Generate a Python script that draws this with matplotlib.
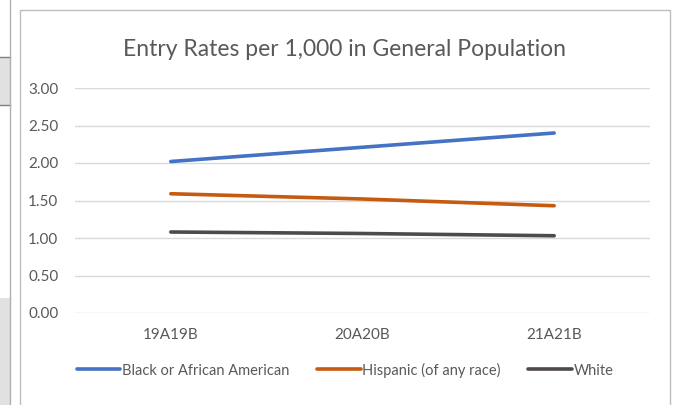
"""Entry Rates per 1,000 in General Population – Nachbau eines Excel-Liniendiagramms."""

import matplotlib
matplotlib.use("Agg")
import matplotlib.pyplot as plt
from matplotlib.patches import Rectangle
from matplotlib.lines import Line2D

plt.rcParams["font.family"] = ["Lato", "DejaVu Sans"]

# Daten
categories = ["19A19B", "20A20B", "21A21B"]
black = [2.02, 2.21, 2.40]
hispanic = [1.59, 1.52, 1.43]
white = [1.08, 1.06, 1.03]
series_names = ["Black or African American", "Hispanic (of any race)", "White"]
colors = ["#4472C4", "#C55A11", "#4F4A4A"]
yticks = [0.0, 0.5, 1.0, 1.5, 2.0, 2.5, 3.0]

W, H = 673, 405
fig = plt.figure(figsize=(W / 100, H / 100), dpi=100)


def fx(px):
    return px / W


def fy(py):
    return 1 - py / H


# Reste der Tabelle links am Rand
fig.add_artist(Rectangle((0, fy(105)), fx(9.5), fy(57) - fy(105),
                         transform=fig.transFigure, facecolor="#e1e1e1",
                         edgecolor="none"))
fig.add_artist(Rectangle((0, 0), fx(9.5), fy(298),
                         transform=fig.transFigure, facecolor="#e1e1e1",
                         edgecolor="none"))
for yy in (57, 105):
    fig.add_artist(Line2D([0, fx(9.5)], [fy(yy), fy(yy)],
                          transform=fig.transFigure, color="#7f7f7f", lw=1))
fig.add_artist(Line2D([fx(9.5), fx(9.5)], [0, 1], transform=fig.transFigure,
                      color="#b0b0b0", lw=1))

# Rahmen des Diagrammbereichs
fig.add_artist(Line2D([fx(19.5), fx(19.5), fx(670), fx(670)],
                      [0, fy(9.5), fy(9.5), 0], transform=fig.transFigure,
                      color="#bdbdbd", lw=1))

ax = fig.add_axes([fx(75), fy(313), fx(650) - fx(75), fy(88) - fy(313)])
x = range(len(categories))
for vals, name, c in zip([black, hispanic, white], series_names, colors):
    ax.plot(x, vals, color=c, lw=2.6, solid_capstyle="round", label=name)

ax.set_xlim(-0.5, len(categories) - 0.5)
ax.set_ylim(0, 3)
ax.set_yticks(yticks)
ax.set_yticklabels([f"{v:.2f}" for v in yticks])
ax.set_xticks(list(x))
ax.set_xticklabels(categories)
ax.grid(axis="y", color="#d9d9d9", lw=1)
ax.set_axisbelow(True)
for s in ax.spines.values():
    s.set_visible(False)
ax.tick_params(length=0, labelsize=11, colors="#595959")
ax.tick_params(axis="y", pad=12)
ax.tick_params(axis="x", pad=11)

fig.text(fx(345), fy(50), "Entry Rates per 1,000 in General Population",
         ha="center", va="center", fontsize=16.5, color="#595959")

leg = fig.legend(loc="center", bbox_to_anchor=(fx(345), fy(370)), ncol=3,
                 frameon=False, fontsize=10.5, handlelength=3.0,
                 handletextpad=0.1, columnspacing=1.9, labelcolor="#595959")

fig.savefig("out.png", dpi=100)
